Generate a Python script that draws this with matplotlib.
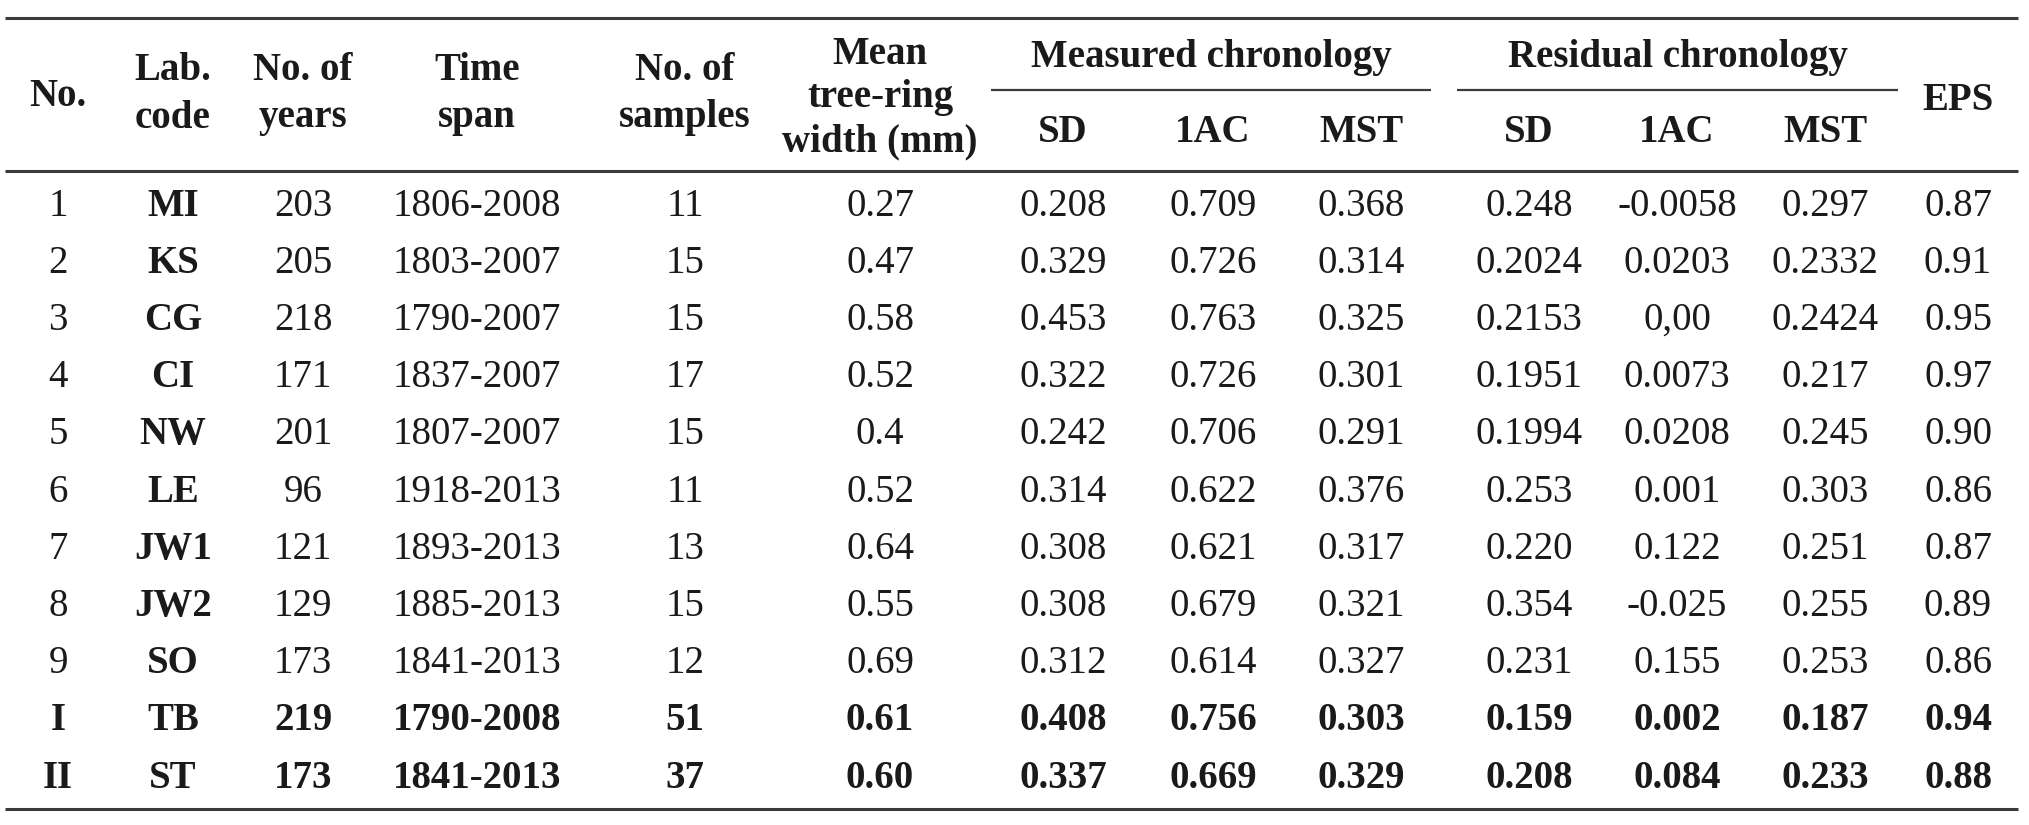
import matplotlib.pyplot as plt

# ---------------------------------------------------------------------------
# Table data
# ---------------------------------------------------------------------------
row_no = ['1', '2', '3', '4', '5', '6', '7', '8', '9', 'I', 'II']
lab_code = ['MI', 'KS', 'CG', 'CI', 'NW', 'LE', 'JW1', 'JW2', 'SO', 'TB', 'ST']
n_years = ['203', '205', '218', '171', '201', '96', '121', '129', '173', '219', '173']
time_span = ['1806-2008', '1803-2007', '1790-2007', '1837-2007', '1807-2007',
             '1918-2013', '1893-2013', '1885-2013', '1841-2013', '1790-2008',
             '1841-2013']
n_samples = ['11', '15', '15', '17', '15', '11', '13', '15', '12', '51', '37']
mean_trw = ['0.27', '0.47', '0.58', '0.52', '0.4', '0.52', '0.64', '0.55',
            '0.69', '0.61', '0.60']
meas_sd = ['0.208', '0.329', '0.453', '0.322', '0.242', '0.314', '0.308',
           '0.308', '0.312', '0.408', '0.337']
meas_1ac = ['0.709', '0.726', '0.763', '0.726', '0.706', '0.622', '0.621',
            '0.679', '0.614', '0.756', '0.669']
meas_mst = ['0.368', '0.314', '0.325', '0.301', '0.291', '0.376', '0.317',
            '0.321', '0.327', '0.303', '0.329']
res_sd = ['0.248', '0.2024', '0.2153', '0.1951', '0.1994', '0.253', '0.220',
          '0.354', '0.231', '0.159', '0.208']
res_1ac = ['-0.0058', '0.0203', '0,00', '0.0073', '0.0208', '0.001', '0.122',
           '-0.025', '0.155', '0.002', '0.084']
res_mst = ['0.297', '0.2332', '0.2424', '0.217', '0.245', '0.303', '0.251',
           '0.255', '0.253', '0.187', '0.233']
eps = ['0.87', '0.91', '0.95', '0.97', '0.90', '0.86', '0.87', '0.89', '0.86',
       '0.94', '0.88']

headers = ['No.', 'Lab.\ncode', 'No. of\nyears', 'Time\nspan', 'No. of\nsamples',
           'Mean\ntree-ring\nwidth (mm)', 'SD', '1AC', 'MST', 'SD', '1AC', 'MST',
           'EPS']
group_headers = ['Measured chronology', 'Residual chronology']
bold_rows = ['I', 'II']

columnas = [row_no, lab_code, n_years, time_span, n_samples, mean_trw,
            meas_sd, meas_1ac, meas_mst, res_sd, res_1ac, res_mst, eps]

# ---------------------------------------------------------------------------
# Layout (pixel units)
# ---------------------------------------------------------------------------
W, H = 2029, 825
col_x = [58, 173, 303, 477, 685, 880, 1063, 1213, 1361, 1529, 1677, 1825, 1958]
row_y0, row_dy = 206, 57.2
fs = 28
color_txt = '#1a1a1a'
color_line = '#3a3a3a'

# posiciones verticales de las líneas de cabecera
y_cab = {1: [97], 2: [70, 118], 3: [55, 98, 142]}

plt.rcParams['font.family'] = ['Liberation Serif', 'DejaVu Serif']

fig = plt.figure(figsize=(W / 100, H / 100), dpi=100)
ax = fig.add_axes([0, 0, 1, 1])
ax.set_xlim(0, W)
ax.set_ylim(H, 0)
ax.axis('off')

# Rules
ax.plot([5, 2018], [18, 18], color=color_line, lw=2.2, solid_capstyle='butt')
ax.plot([5, 2018], [171, 171], color=color_line, lw=2.2, solid_capstyle='butt')
ax.plot([5, 2018], [809, 809], color=color_line, lw=2.2, solid_capstyle='butt')
ax.plot([991, 1431], [90, 90], color=color_line, lw=1.6, solid_capstyle='butt')
ax.plot([1457, 1898], [90, 90], color=color_line, lw=1.6, solid_capstyle='butt')

# Group headers
ax.text((991 + 1431) / 2, 58, group_headers[0], ha='center', va='center',
        fontsize=fs, fontweight='bold', color=color_txt)
ax.text((1457 + 1898) / 2, 58, group_headers[1], ha='center', va='center',
        fontsize=fs, fontweight='bold', color=color_txt)

# Column headers
for i, h in enumerate(headers):
    lineas = h.split('\n')
    if 6 <= i <= 11:
        ys = [132]
    elif i == 12:
        ys = [100]
    else:
        ys = y_cab[len(lineas)]
    for txt, y in zip(lineas, ys):
        ax.text(col_x[i], y, txt, ha='center', va='center', fontsize=fs,
                fontweight='bold', color=color_txt)

# Body
for r in range(len(row_no)):
    y = row_y0 + r * row_dy
    fila_bold = row_no[r] in bold_rows
    for c, col in enumerate(columnas):
        peso = 'bold' if (fila_bold or c == 1) else 'normal'
        ax.text(col_x[c], y, col[r], ha='center', va='center', fontsize=fs,
                fontweight=peso, color=color_txt)

fig.savefig('out.png', dpi=100)
